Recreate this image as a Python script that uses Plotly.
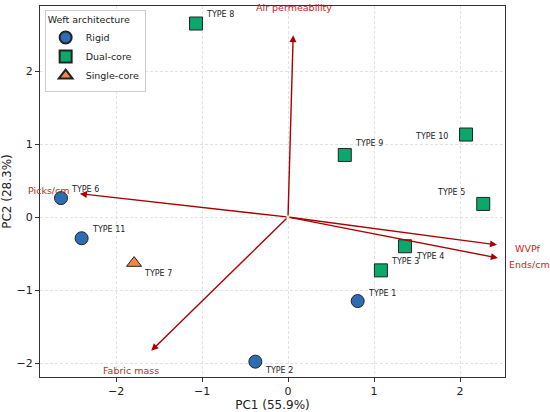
import plotly.graph_objects as go

# scores PC1 / PC2
TIPOS = ["TYPE 1", "TYPE 2", "TYPE 3", "TYPE 4", "TYPE 5", "TYPE 6",
         "TYPE 7", "TYPE 8", "TYPE 9", "TYPE 10", "TYPE 11"]
PC1 = [0.81, -0.38, 1.08, 1.36, 2.27, -2.64, -1.79, -1.07, 0.66, 2.07, -2.40]
PC2 = [-1.15, -1.98, -0.73, -0.40, 0.18, 0.26, -0.63, 2.65, 0.85, 1.13, -0.29]
ARQUITECTURA = ["Rigid", "Rigid", "Dual-core", "Dual-core", "Dual-core", "Rigid",
                "Single-core", "Dual-core", "Dual-core", "Dual-core", "Rigid"]

# cargas (vectores) de las variables
VARIABLES = ["Air permeability", "Picks/cm", "Fabric mass", "WVPf", "Ends/cm"]
CARGA_X = [0.06, -2.42, -1.59, 2.43, 2.44]
CARGA_Y = [2.49, 0.32, -1.83, -0.38, -0.56]

ESTILOS = {
    "Rigid": ("circle", "#2E6DB4"),
    "Dual-core": ("square", "#0BA86B"),
    "Single-core": ("triangle-up", "#F0854A"),
}

# desplazamiento de la etiqueta de cada punto (px) y anclaje
OFFSETS = {
    "TYPE 1": (8, 8, "left"), "TYPE 2": (8, -9, "left"), "TYPE 3": (8, 9, "left"),
    "TYPE 4": (9, -10, "left"), "TYPE 5": (-16, 11, "right"), "TYPE 6": (8, 9, "left"),
    "TYPE 7": (8, -10, "left"), "TYPE 8": (8, 9, "left"), "TYPE 9": (8, 11, "left"),
    "TYPE 10": (-16, -2, "right"), "TYPE 11": (8, 9, "left"),
}

X_RANGO = [-2.884, 2.523]
Y_RANGO = [-2.19, 2.89]

FUENTE = "DejaVu Sans"
ROJO_FLECHA = "#AA0000"
ROJO_TEXTO = "#C62828"


def a_dominio(v, rango):
    return (v - rango[0]) / (rango[1] - rango[0])


fig = go.Figure()

for grupo, (simbolo, color) in ESTILOS.items():
    idx = [i for i, a in enumerate(ARQUITECTURA) if a == grupo]
    fig.add_scatter(
        x=[PC1[i] for i in idx], y=[PC2[i] for i in idx], mode="markers", name=grupo,
        marker={"symbol": simbolo, "size": 13, "color": color,
                "line": {"color": "#222222", "width": 1}},
    )

for t, x, y in zip(TIPOS, PC1, PC2):
    dx, dy, anc = OFFSETS[t]
    fig.add_annotation(x=x, y=y, text=t, showarrow=False, xanchor=anc, yanchor="middle",
                       xshift=dx, yshift=dy, font={"size": 8, "color": "#222222"})

for nombre, cx, cy in zip(VARIABLES, CARGA_X, CARGA_Y):
    fig.add_annotation(x=cx, y=cy, ax=0, ay=0, xref="x", yref="y", axref="x", ayref="y",
                       text="", showarrow=True, arrowhead=2, arrowsize=1, arrowwidth=1.4,
                       arrowcolor=ROJO_FLECHA)
    # etiqueta al 115 % del vector, en coordenadas de dominio para que no se recorte
    fig.add_annotation(x=a_dominio(cx * 1.15, X_RANGO), y=a_dominio(cy * 1.15, Y_RANGO),
                       xref="x domain", yref="y domain", text=nombre, showarrow=False,
                       xanchor="center", yanchor="middle",
                       font={"size": 9.5, "color": ROJO_TEXTO})

eje = dict(showline=True, linecolor="#333333", linewidth=1, mirror=True, ticks="outside",
           ticklen=4, tickcolor="#333333", showgrid=True, gridcolor="#E2E2E2",
           griddash="3px,2px", gridwidth=1, zeroline=False, tickfont={"size": 11},
           automargin=False)

fig.update_xaxes(eje, range=X_RANGO, dtick=1,
                 title={"text": "PC1 (55.9%)", "standoff": 1, "font": {"size": 12}})
fig.update_yaxes(eje, range=Y_RANGO, dtick=1,
                 title={"text": "PC2 (28.3%)", "standoff": 6, "font": {"size": 12}})

fig.update_layout(
    width=550, height=412, template="plotly_white",
    margin={"l": 40, "r": 45, "t": 6, "b": 35},
    font={"family": FUENTE, "size": 11, "color": "#222222"},
    plot_bgcolor="white", paper_bgcolor="white",
    legend={"title": {"text": "Weft architecture", "font": {"size": 9.5}},
            "font": {"size": 9.5},
            "x": 0.01, "y": 0.99, "xanchor": "left", "yanchor": "top",
            "bordercolor": "#CCCCCC", "borderwidth": 1, "bgcolor": "rgba(255,255,255,0.9)",
            "itemsizing": "constant", "itemwidth": 30, "tracegroupgap": 0},
)

# sin margen del body para que la figura quede en la esquina de la ventana
fig.write_html("out.html", config={"displayModeBar": False},
               post_script="document.body.style.margin='0';")
